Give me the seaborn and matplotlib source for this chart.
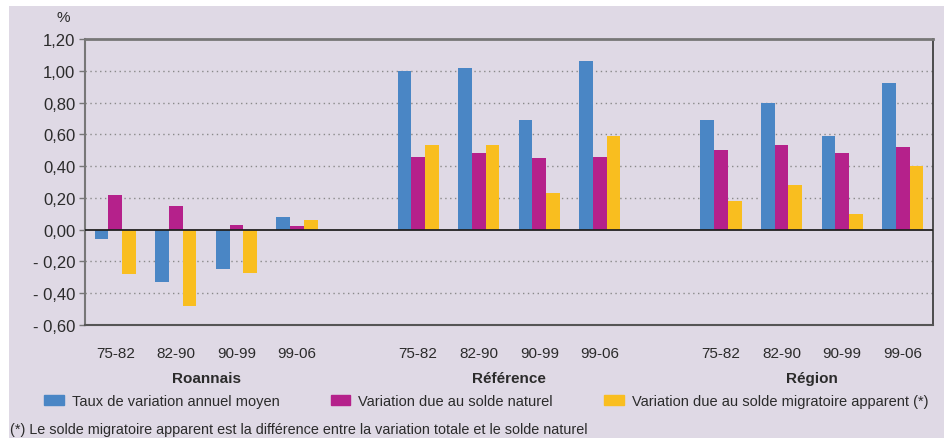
import matplotlib
matplotlib.use("Agg")
import matplotlib.pyplot as plt
import matplotlib.patches as mpatches
import seaborn as sns
import pandas as pd

# valeurs (en %)
zones = ["Roannais", "Référence", "Région"]
periodes = ["75-82", "82-90", "90-99", "99-06"]
taux_variation = [-0.06, -0.33, -0.25, 0.08,
                  1.00, 1.02, 0.69, 1.06,
                  0.69, 0.80, 0.59, 0.92]
solde_naturel = [0.22, 0.15, 0.03, 0.02,
                 0.46, 0.48, 0.45, 0.46,
                 0.50, 0.53, 0.48, 0.52]
solde_migratoire = [-0.28, -0.48, -0.27, 0.06,
                    0.53, 0.53, 0.23, 0.59,
                    0.18, 0.28, 0.10, 0.40]
series = ["Taux de variation annuel moyen",
          "Variation due au solde naturel",
          "Variation due au solde migratoire apparent (*)"]
couleurs = ["#4a86c5", "#b5218b", "#f9be1f"]
yticks = [-0.6, -0.4, -0.2, 0.0, 0.2, 0.4, 0.6, 0.8, 1.0, 1.2]

rows = []
for i, zone in enumerate(zones):
    for j, per in enumerate(periodes):
        k = i * 4 + j
        for s, vals in zip(series, [taux_variation, solde_naturel, solde_migratoire]):
            rows.append({"slot": zone + " " + per, "serie": s, "valeur": vals[k]})
df = pd.DataFrame(rows)

# ordre des categories avec une case vide entre les zones
order = []
labels = []
for i, zone in enumerate(zones):
    for per in periodes:
        order.append(zone + " " + per)
        labels.append(per)
    if i < len(zones) - 1:
        order.append(" " * (i + 1))
        labels.append("")

plt.rcParams["font.family"] = ["Liberation Sans", "DejaVu Sans"]
bg = "#dfd9e5"
txt = "#2b2b2b"

fig = plt.figure(figsize=(9.45, 4.39), dpi=100)
fig.patch.set_facecolor("white")
fig.patches.append(mpatches.Rectangle((9 / 945, 0), 1, 1 - 7 / 439, transform=fig.transFigure,
                                      facecolor=bg, edgecolor="none", zorder=-10))

ax = fig.add_axes([85 / 945, 1 - 326 / 439, (933 - 85) / 945, (326 - 40) / 439])
ax.set_facecolor(bg)

sns.barplot(data=df, x="slot", y="valeur", hue="serie", order=order, hue_order=series,
            palette=couleurs, width=0.68, saturation=1, errorbar=None, ax=ax, legend=False,
            zorder=3)

ax.set_xlim(-0.5, len(order) - 0.5)
ax.set_ylim(-0.6, 1.2)
ax.set_yticks(yticks)
ax.set_yticklabels([("- " if v < 0 else "") + ("%.2f" % abs(v)).replace(".", ",") for v in yticks],
                   fontsize=12, color=txt)
ax.set_xticks(range(len(order)))
ax.set_xticklabels(labels, fontsize=11, color=txt)
ax.tick_params(axis="x", length=0, pad=15)
ax.tick_params(axis="y", length=4, width=1, color="#777777", pad=3)
ax.set_xlabel("")
ax.set_ylabel("")

for v in yticks[1:-1]:
    if v != 0:
        ax.axhline(v, color="#8a8a8a", lw=1, ls=(0, (1, 2.5)), zorder=1)
ax.axhline(0, color="#222222", lw=1.3, zorder=4)

ax.spines["left"].set_color("#777777")
ax.spines["left"].set_linewidth(1.5)
ax.spines["top"].set_color("#777777")
ax.spines["top"].set_linewidth(2)
ax.spines["right"].set_color("#333333")
ax.spines["right"].set_linewidth(1.2)
ax.spines["bottom"].set_color("#555555")
ax.spines["bottom"].set_linewidth(1.5)

# noms des zones sous les periodes
for i, zone in enumerate(zones):
    xc = i * 5 + 1.5
    ax.text(xc, -0.6 - 53 / 159.4, zone, ha="center", va="center", fontsize=11,
            fontweight="bold", color=txt)

fig.text(63 / 945, 1 - 18 / 439, "%", ha="center", va="center", fontsize=11, color=txt)

handles = [mpatches.Patch(color=c, label=s) for c, s in zip(couleurs, series)]
fig.legend(handles=handles, loc="center left", bbox_to_anchor=(44 / 945, 1 - 402 / 439),
           ncol=3, frameon=False, fontsize=10.5, handlelength=1.35, handleheight=0.75,
           handletextpad=0.55, columnspacing=3.5, borderpad=0, borderaxespad=0,
           labelcolor=txt)

fig.text(10 / 945, 1 - 430 / 439,
         "(*) Le solde migratoire apparent est la différence entre la variation totale et le solde naturel",
         ha="left", va="center", fontsize=10.4, color=txt)

fig.savefig("out.png", dpi=100, facecolor=fig.get_facecolor())
